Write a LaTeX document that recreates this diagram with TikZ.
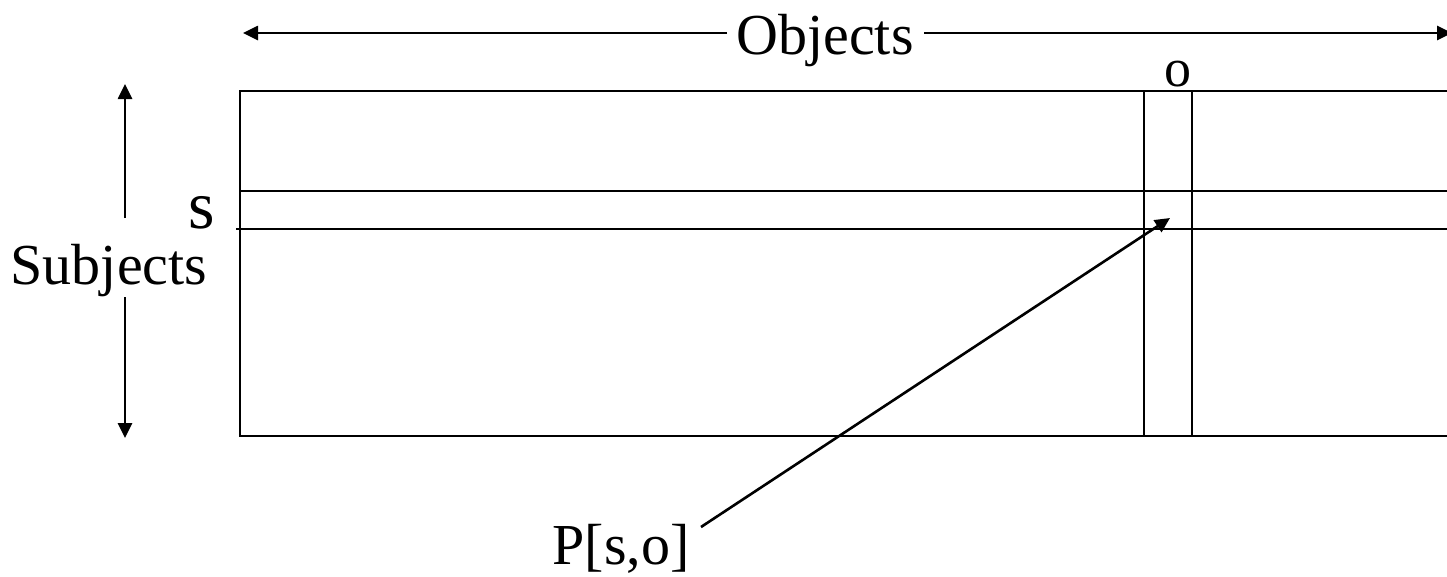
\documentclass[tikz,border=0pt]{standalone}
\usepackage{fontspec}
\setmainfont{Liberation Serif}
\usetikzlibrary{arrows.meta}
\begin{document}
\begin{tikzpicture}[x=1pt,y=-1pt,
  ln/.style={line width=2.6pt},
  arr/.style={ln,-{Triangle[length=15pt,width=14pt]}},
  lbl/.style={inner sep=0pt,font=\fontsize{58}{60}\selectfont}]
\useasboundingbox (0,0) rectangle (1447,576);
% matrix
\draw[ln] (1460,91) -- (240,91) -- (240,436) -- (1460,436);
\draw[ln] (240,191) -- (1460,191);
\draw[ln] (236,229) -- (1460,229);
\draw[ln] (1144,91) -- (1144,436);
\draw[ln] (1192,91) -- (1192,436);
% labels
\node[lbl,anchor=base] (objects) at (825,54) {Objects};
\node[lbl,anchor=base] (subjects) at (109,284) {Subjects};
\node[lbl,anchor=base,font=\fontsize{68}{70}\selectfont] (s) at (202,228) {s};
\node[lbl,anchor=base,font=\fontsize{54}{56}\selectfont] (o) at (1178,86) {o};
\node[lbl,anchor=base] (p) at (621,564) {P[s,o]};
% arrows
\coordinate (oL) at (243,33);
\coordinate (oR) at (1452,33);
\coordinate (oLs) at (727,33);
\coordinate (oRs) at (924,33);
\draw[arr] (oLs) -- (oL);
\draw[arr] (oRs) -- (oR);
\coordinate (sT) at (125,84);
\coordinate (sB) at (125,438);
\coordinate (sTs) at (125,218);
\coordinate (sBs) at (125,297);
\draw[arr] (sTs) -- (sT);
\draw[arr] (sBs) -- (sB);
\coordinate (pS) at (701,527);
\coordinate (cell) at (1170,218);
\draw[arr] (pS) -- (cell);
\end{tikzpicture}
\end{document}
